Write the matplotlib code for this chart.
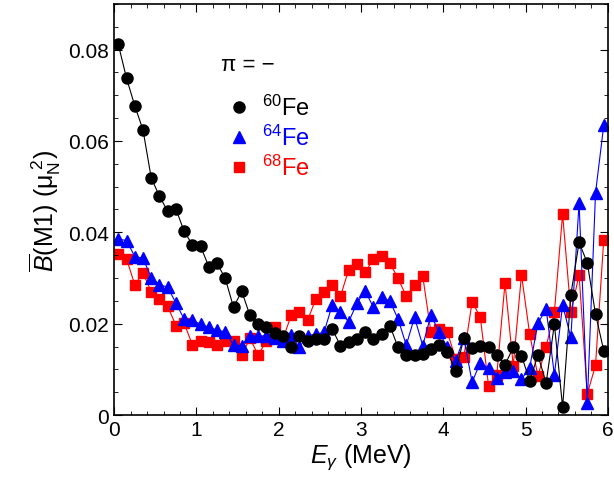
import numpy as np
import matplotlib.pyplot as plt
from matplotlib.ticker import MultipleLocator

energy = np.round(np.arange(0.05, 6.0, 0.1), 2)

fe60 = [0.0811, 0.0737, 0.0677, 0.0624, 0.0519, 0.0479, 0.0446, 0.0451, 0.0402, 0.0373,
        0.0369, 0.0325, 0.0332, 0.0299, 0.0236, 0.0271, 0.0218, 0.0199, 0.0192, 0.0180,
        0.0174, 0.0148, 0.0174, 0.0163, 0.0166, 0.0166, 0.0188, 0.0152, 0.0159, 0.0166,
        0.0181, 0.0166, 0.0177, 0.0196, 0.0148, 0.0131, 0.0131, 0.0134, 0.0145, 0.0153,
        0.0137, 0.0097, 0.0168, 0.0146, 0.0152, 0.0150, 0.0131, 0.0110, 0.0148, 0.0130,
        0.0075, 0.0131, 0.0070, 0.0199, 0.0017, 0.0263, 0.0378, 0.0333, 0.0221, 0.0141]
fe64 = [0.0385, 0.0382, 0.0347, 0.0343, 0.0301, 0.0285, 0.0280, 0.0245, 0.0210, 0.0207,
        0.0199, 0.0192, 0.0186, 0.0182, 0.0153, 0.0152, 0.0174, 0.0172, 0.0174, 0.0168,
        0.0163, 0.0175, 0.0148, 0.0174, 0.0177, 0.0181, 0.0241, 0.0225, 0.0204, 0.0245,
        0.0272, 0.0236, 0.0258, 0.0250, 0.0210, 0.0153, 0.0214, 0.0152, 0.0219, 0.0181,
        0.0148, 0.0119, 0.0168, 0.0072, 0.0115, 0.0102, 0.0082, 0.0095, 0.0097, 0.0079,
        0.0104, 0.0201, 0.0232, 0.0088, 0.0241, 0.0170, 0.0464, 0.0026, 0.0486, 0.0634]
fe68 = [0.0353, 0.0342, 0.0285, 0.0311, 0.0270, 0.0255, 0.0238, 0.0196, 0.0201, 0.0154,
        0.0163, 0.0159, 0.0154, 0.0163, 0.0161, 0.0131, 0.0168, 0.0131, 0.0163, 0.0192,
        0.0166, 0.0218, 0.0225, 0.0207, 0.0254, 0.0270, 0.0285, 0.0260, 0.0318, 0.0331,
        0.0312, 0.0342, 0.0349, 0.0333, 0.0299, 0.0260, 0.0285, 0.0304, 0.0181, 0.0188,
        0.0181, 0.0123, 0.0128, 0.0248, 0.0214, 0.0064, 0.0088, 0.0289, 0.0108, 0.0307,
        0.0177, 0.0085, 0.0150, 0.0225, 0.0440, 0.0225, 0.0307, 0.0046, 0.0109, 0.0384]

plt.rcParams['font.family'] = ['Liberation Sans', 'DejaVu Sans']
plt.rcParams['mathtext.fontset'] = 'custom'
plt.rcParams['mathtext.rm'] = 'Liberation Sans'
plt.rcParams['mathtext.it'] = 'Liberation Sans:italic'
fig = plt.figure(figsize=(6.14, 4.81), dpi=100)
ax = fig.add_axes([0.186, 0.135, 0.804, 0.855])

ax.plot(energy, fe60, '-o', color='black', lw=0.8, ms=8, label=r'$^{60}$Fe', zorder=3)
ax.plot(energy, fe64, '-^', color='blue', lw=0.8, ms=8, label=r'$^{64}$Fe', zorder=2)
ax.plot(energy, fe68, '-s', color='red', lw=0.8, ms=7, label=r'$^{68}$Fe', zorder=1)

ax.set_xlim(0, 6)
ax.set_ylim(0, 0.09)
ax.xaxis.set_major_locator(MultipleLocator(1))
ax.xaxis.set_minor_locator(MultipleLocator(0.2))
ax.yaxis.set_minor_locator(MultipleLocator(0.005))
ax.set_yticks([0, 0.02, 0.04, 0.06, 0.08])
ax.set_yticklabels(['0', '0.02', '0.04', '0.06', '0.08'])
ax.tick_params(which='both', direction='in', top=True, right=True, labelsize=15)
ax.tick_params(which='major', length=6)
ax.tick_params(which='minor', length=3)
for s in ax.spines.values():
    s.set_linewidth(1.2)

ax.set_xlabel(r'$E_\gamma$ (MeV)', fontsize=18, labelpad=2)
ax.set_ylabel(r'$\overline{B}$(M1) ($\mathrm{\mu_N^{\ 2}}$)', fontsize=18)

ax.text(1.3, 0.0755, 'π = −', fontsize=16)
leg = ax.legend(loc='upper left', bbox_to_anchor=(0.19, 0.83), frameon=False,
                fontsize=17, handlelength=0.8, handletextpad=0.6, labelspacing=0.2)
for t, c in zip(leg.get_texts(), ['black', 'blue', 'red']):
    t.set_color(c)
for h in leg.legend_handles:
    h.set_linestyle('')

fig.savefig('out.png', dpi=100)
